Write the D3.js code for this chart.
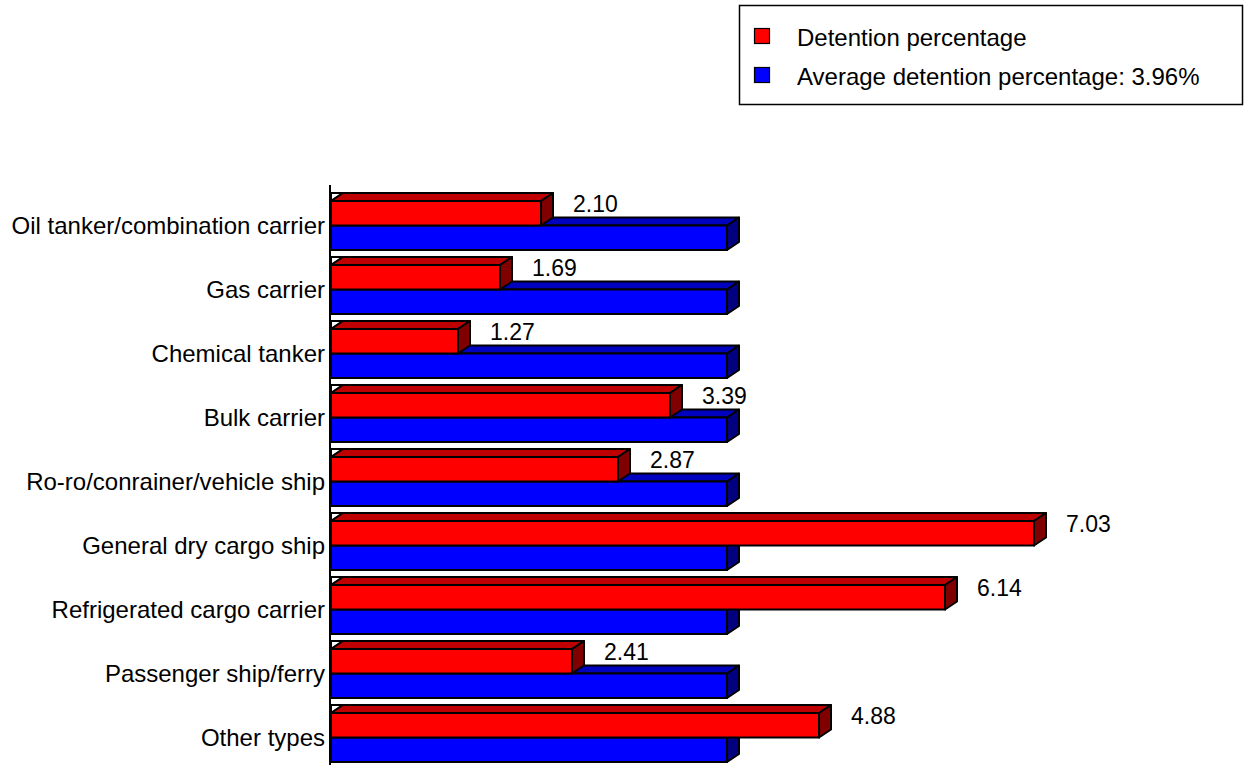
<!DOCTYPE html>
<html>
<head>
<meta charset="utf-8">
<script src="https://cdn.jsdelivr.net/npm/d3@7"></script>
<style>
    body { margin: 0; background: #fff; }
    svg text { font-family: Arial, "Liberation Sans", sans-serif; fill: #000; }
</style>
</head>
<body>
<svg id="chart" width="1245" height="765"></svg>
<script>
// chart data
const categories = [
    "Oil tanker/combination carrier",
    "Gas carrier",
    "Chemical tanker",
    "Bulk carrier",
    "Ro-ro/conrainer/vehicle ship",
    "General dry cargo ship",
    "Refrigerated cargo carrier",
    "Passenger ship/ferry",
    "Other types"
];
const detention = [2.10, 1.69, 1.27, 3.39, 2.87, 7.03, 6.14, 2.41, 4.88];
const averageDetention = 3.96;
const legendLabels = ["Detention percentage", "Average detention percentage: 3.96%"];

const redColors = { front: "#ff0000", top: "#bf0000", side: "#800000" };
const blueColors = { front: "#0000ff", top: "#0000bf", side: "#000080" };

const svg = d3.select("#chart");
const depthX = 12, depthY = 8;   // fake 3d offset
const barH = 24.5;

const x = d3.scaleLinear()
    .domain([0, 7])
    .range([331, 1031]);

const y = d3.scaleBand()
    .domain(categories)
    .range([193, 769])
    .paddingInner(0);

function bar3d(g, v, yTop, colors, corner) {
    const x0 = x(0), x1 = x(v);
    if (corner) {
        g.append("polygon")
            .attr("points", [[x0, yTop - depthY], [x0 + depthX, yTop - depthY], [x0, yTop]].join(" "))
            .attr("fill", "#fff").attr("stroke", "#000").attr("stroke-width", 2)
            .attr("stroke-linejoin", "round");
    }
    g.append("polygon")
        .attr("points", [[x0, yTop], [x0 + depthX, yTop - depthY], [x1 + depthX, yTop - depthY], [x1, yTop]].join(" "))
        .attr("fill", colors.top).attr("stroke", "#000").attr("stroke-width", 2)
        .attr("stroke-linejoin", "round");
    g.append("polygon")
        .attr("points", [[x1, yTop], [x1 + depthX, yTop - depthY], [x1 + depthX, yTop + barH - depthY], [x1, yTop + barH]].join(" "))
        .attr("fill", colors.side).attr("stroke", "#000").attr("stroke-width", 2)
        .attr("stroke-linejoin", "round");
    g.append("rect")
        .attr("x", x0).attr("y", yTop)
        .attr("width", x1 - x0).attr("height", barH)
        .attr("fill", colors.front).attr("stroke", "#000").attr("stroke-width", 2);
}

const bars = svg.append("g");
categories.forEach((c, i) => {
    const y0 = y(c);
    const g = bars.append("g");
    bar3d(g, averageDetention, y0 + depthY + barH, blueColors, false);
    bar3d(g, detention[i], y0 + depthY, redColors, true);

    g.append("text")
        .attr("x", x(detention[i]) + depthX + 20)
        .attr("y", y0 + 11)
        .attr("dominant-baseline", "central")
        .style("font-size", "23px")
        .text(detention[i].toFixed(2));
});

// axis line
svg.append("line")
    .attr("x1", 330).attr("x2", 330)
    .attr("y1", 185).attr("y2", 765)
    .attr("stroke", "#000").attr("stroke-width", 2);

// category labels
svg.append("g").selectAll("text")
    .data(categories)
    .enter()
    .append("text")
    .attr("x", 325)
    .attr("y", d => y(d) + depthY + barH)
    .attr("text-anchor", "end")
    .attr("dominant-baseline", "central")
    .style("font-size", "24px")
    .text(d => d);

// legend
const legend = svg.append("g");
legend.append("rect")
    .attr("x", 739.5).attr("y", 5.5)
    .attr("width", 503).attr("height", 99)
    .attr("fill", "#fff").attr("stroke", "#000").attr("stroke-width", 1.5);

[redColors.front, blueColors.front].forEach((col, i) => {
    const ly = 36 + i * 39;
    legend.append("rect")
        .attr("x", 754.5).attr("y", ly - 7.5)
        .attr("width", 15).attr("height", 15)
        .attr("fill", col).attr("stroke", "#000").attr("stroke-width", 1.2);
    legend.append("text")
        .attr("x", 797)
        .attr("y", ly + 1)
        .attr("dominant-baseline", "central")
        .style("font-size", "24px")
        .text(legendLabels[i]);
});
</script>
</body>
</html>
